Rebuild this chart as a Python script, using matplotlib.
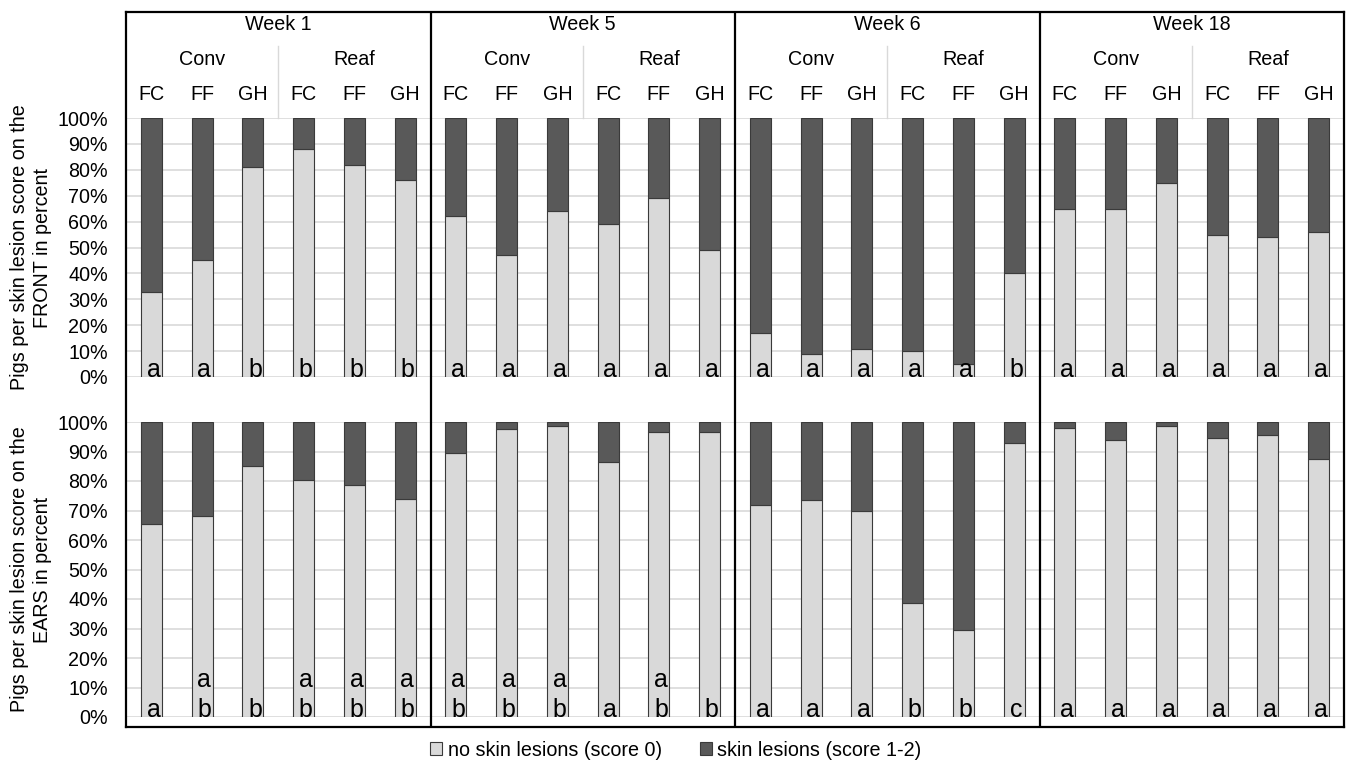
import matplotlib
matplotlib.use("Agg")
import matplotlib.pyplot as plt
from matplotlib.patches import Patch
import numpy as np

plt.rcParams['font.family'] = ['Liberation Sans', 'DejaVu Sans']

# ---- data -------------------------------------------------------------
weeks = ["Week 1", "Week 5", "Week 6", "Week 18"]
housing = ["Conv", "Reaf"]
feeding = ["FC", "FF", "GH"]

# share of pigs without lesions (score 0), in percent; 6 groups per week
front_no_lesion = [33, 45, 81, 88, 82, 76,
                   62, 47, 64, 59, 69, 49,
                   17, 9, 11, 10, 5, 40,
                   65, 65, 75, 55, 54, 56]
ears_no_lesion = [65.5, 68, 85, 80.5, 78.5, 74,
                  89.5, 97.5, 98.5, 86.5, 96.5, 96.5,
                  72, 73.5, 70, 38.5, 29.5, 93,
                  98, 94, 98.5, 94.5, 95.5, 87.5]

# significance letters
front_letters = ["a", "a", "b", "b", "b", "b",
                 "a", "a", "a", "a", "a", "a",
                 "a", "a", "a", "a", "a", "b",
                 "a", "a", "a", "a", "a", "a"]
ears_letters_low = ["a", "b", "b", "b", "b", "b",
                    "b", "b", "b", "a", "b", "b",
                    "a", "a", "a", "b", "b", "c",
                    "a", "a", "a", "a", "a", "a"]
ears_letters_up = ["", "a", "", "a", "a", "a",
                   "a", "a", "a", "", "a", "",
                   "", "", "", "", "", "",
                   "", "", "", "", "", ""]

legend_labels = ["no skin lesions (score 0)", "skin lesions (score 1-2)"]
ylabels = ["Pigs per skin lesion score on the\nFRONT in percent",
           "Pigs per skin lesion score on the\nEARS in percent"]

# ---- style ------------------------------------------------------------
LIGHT = "#d9d9d9"
DARK = "#595959"
EDGE = "#3a3a3a"
GRID = "#d9d9d9"
FS = 14.2
FS_LET = 18

W, H = 1347, 763
fig = plt.figure(figsize=(W / 100, H / 100), dpi=100)


def rect(l, t, r, b):
    return [l / W, 1 - b / H, (r - l) / W, (b - t) / H]


n = len(front_no_lesion)
x = np.arange(n)
bar_w = 0.41


def draw_panel(ax, values, low, up, ylabel):
    values = np.asarray(values, dtype=float)
    ax.set_facecolor("none")
    ax.bar(x, values, width=bar_w, color=LIGHT, edgecolor=EDGE,
           linewidth=0.8, zorder=3)
    ax.bar(x, 100 - values, bottom=values, width=bar_w, color=DARK,
           edgecolor=EDGE, linewidth=0.8, zorder=3)
    ax.set_xlim(-0.5, n - 0.5)
    ax.set_ylim(0, 100)
    ax.set_yticks(np.arange(0, 101, 10))
    ax.set_yticklabels([f"{v}%" for v in range(0, 101, 10)], fontsize=FS)
    ax.set_xticks([])
    ax.tick_params(axis="y", length=0, pad=13)
    ax.yaxis.grid(True, color=GRID, linewidth=1.2, zorder=0)
    ax.set_axisbelow(True)
    for s in ax.spines.values():
        s.set_visible(False)
    for i in range(n):
        if low[i]:
            ax.annotate(low[i], (x[i], 0), xytext=(1.5, 0),
                        textcoords="offset points", ha="center",
                        va="baseline", fontsize=FS_LET, zorder=5)
        if up[i]:
            ax.annotate(up[i], (x[i], 0), xytext=(1.5, 21.6),
                        textcoords="offset points", ha="center",
                        va="baseline", fontsize=FS_LET, zorder=5)
    ax.set_ylabel(ylabel, fontsize=FS, linespacing=1.25, labelpad=0)
    ax.yaxis.set_label_coords(-74 / 1218, 0.5)


ax_top = fig.add_axes(rect(126, 118, 1344, 377))
draw_panel(ax_top, front_no_lesion, front_letters, [""] * n, ylabels[0])

ax_bot = fig.add_axes(rect(126, 422, 1344, 717))
draw_panel(ax_bot, ears_no_lesion, ears_letters_low, ears_letters_up,
           ylabels[1])

# ---- frame with week / housing / feeding headers -----------------------
frame = fig.add_axes(rect(126, 12, 1344, 727))
frame.patch.set_visible(False)
frame.set_xlim(-0.5, n - 0.5)
frame.set_ylim(715, 0)  # pixel rows below the frame top
frame.set_xticks([])
frame.set_yticks([])
for s in frame.spines.values():
    s.set_linewidth(1.6)
    s.set_color("black")

per_week = len(housing) * len(feeding)
for w, wk in enumerate(weeks):
    start = w * per_week
    frame.text(start + (per_week - 1) / 2, 12.5, wk, ha="center",
               va="center", fontsize=FS)
    if w > 0:
        frame.axvline(start - 0.5, color="black", linewidth=1.6)
    for h, hs in enumerate(housing):
        hstart = start + h * len(feeding)
        frame.text(hstart + (len(feeding) - 1) / 2, 47.5, hs, ha="center",
                   va="center", fontsize=FS)
        if h > 0:
            frame.plot([hstart - 0.5, hstart - 0.5], [34, 106],
                       color=GRID, linewidth=1.0)
        for f, fd in enumerate(feeding):
            frame.text(hstart + f, 82.5, fd, ha="center", va="center",
                       fontsize=FS)

# ---- legend -------------------------------------------------------------
handles = [Patch(facecolor=LIGHT, edgecolor=EDGE, linewidth=0.8),
           Patch(facecolor=DARK, edgecolor=EDGE, linewidth=0.8)]
fig.legend(handles, legend_labels, loc="center", ncol=2,
           bbox_to_anchor=(676 / W, 1 - 750 / H), frameon=False,
           fontsize=FS, handlelength=0.6, handleheight=0.6,
           handletextpad=0.3, columnspacing=1.9, borderpad=0)

fig.savefig("out.png", dpi=100)
